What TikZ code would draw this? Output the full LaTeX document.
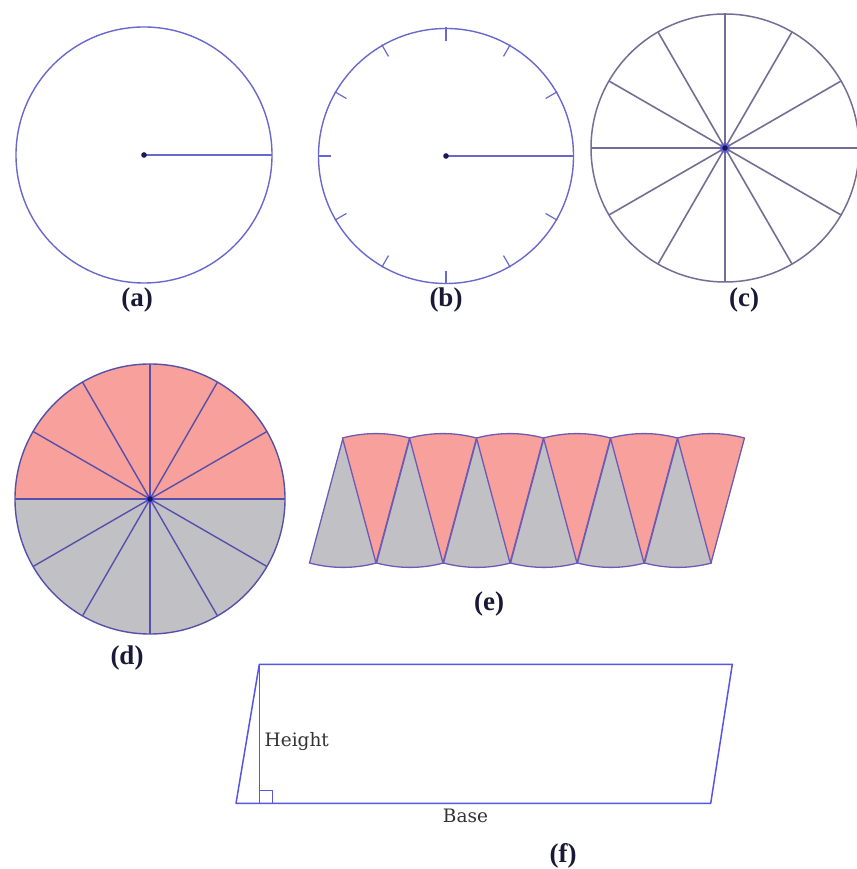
\documentclass[tikz,border=0pt]{standalone}
\usepackage{fontspec}
\setmainfont{Liberation Serif}
\newfontfamily\dejaserif{DejaVu Serif}
\definecolor{circblue}{RGB}{105,105,205}
\definecolor{gline}{RGB}{115,110,150}
\definecolor{dline}{RGB}{85,80,170}
\definecolor{eline}{RGB}{110,90,180}
\definecolor{pline}{RGB}{85,85,230}
\definecolor{dotnavy}{RGB}{25,25,90}
\definecolor{pinkc}{RGB}{248,160,156}
\definecolor{grayc}{RGB}{192,192,197}
\definecolor{labc}{RGB}{25,25,55}
\begin{document}
\begin{tikzpicture}[x=1pt,y=1pt,line join=round,
  lab/.style={font=\bfseries\fontsize{27}{30}\selectfont, text=labc, inner sep=0pt},
  geotext/.style={font=\dejaserif\fontsize{18.5}{22}\selectfont, text=black!80, inner sep=0pt}]
\useasboundingbox (0,0) rectangle (856,869);
\fill[white] (0,0) rectangle (856,869);

% (a)
\coordinate (ca) at (144,714);
\draw[circblue, line width=1.4] (ca) circle[radius=128];
\draw[circblue, line width=1.6] (ca) -- ++(128,0);
\fill[dotnavy] (ca) circle[radius=2.8];
\node[lab] (la) at (137,569) {(a)};

% (b)
\coordinate (cb) at (446,713);
\draw[circblue, line width=1.4] (cb) circle[radius=127.5];
\foreach \a in {30,60,...,330}
  \draw[circblue, line width=1.2] (cb) ++(\a:115) -- ++(\a:13.5);
\draw[circblue, line width=1.6] (cb) -- ++(127.5,0);
\fill[dotnavy] (cb) circle[radius=2.8];
\node[lab] (lb) at (446,569) {(b)};

% (c)
\coordinate (cc) at (725,721);
\draw[gline, line width=1.5] (cc) circle[radius=134];
\foreach \a in {0,30,...,150}
  \draw[gline, line width=1.6] (cc) ++(\a:134) -- ++(\a+180:268);
\fill[blue!70, opacity=0.5] (cc) circle[radius=5.5];
\fill[dotnavy] (cc) circle[radius=2.8];
\node[lab] (lc) at (744,569) {(c)};

% (d)
\coordinate (cd) at (150,370);
\fill[pinkc] (cd) ++(0:135) arc[start angle=0, end angle=180, radius=135] -- cycle;
\fill[grayc] (cd) ++(180:135) arc[start angle=180, end angle=360, radius=135] -- cycle;
\foreach \a in {0,30,...,150}
  \draw[dline, line width=1.4] (cd) ++(\a:135) -- ++(\a+180:270);
\draw[dline, line width=1.4] (cd) circle[radius=135];
\fill[blue!70, opacity=0.5] (cd) circle[radius=5];
\fill[dotnavy] (cd) circle[radius=2.8];
\node[lab] (ld) at (127,211) {(d)};

% (e)
\foreach \k [evaluate=\k as \gx using 343+67*\k,
             evaluate=\k as \px using 376+67*\k] in {0,...,5} {
  \filldraw[fill=grayc, draw=eline, line width=1.3]
    (\gx,431) -- ++(255:129.4) arc[start angle=255, end angle=285, radius=129.4] -- cycle;
  \filldraw[fill=pinkc, draw=eline, line width=1.3]
    (\px,306) -- ++(105:129.4) arc[start angle=105, end angle=75, radius=129.4] -- cycle;
}
\node[lab] (le) at (489,265) {(e)};

% (f)
\coordinate (fTL) at (259.3,204.7);
\coordinate (fTR) at (732.3,204.7);
\coordinate (fBR) at (710.7,65.7);
\coordinate (fBL) at (236,65.7);
\coordinate (fH) at (259.3,65.7);
\draw[pline, line width=1.5] (fTL) -- (fTR) -- (fBR) -- (fBL) -- cycle;
\draw[pline, line width=1.3] (fTL) -- (fH);
\draw[pline, line width=1.2] (fH) rectangle ++(13.5,12.5);
\node[geotext, anchor=west] (height) at (264.5,127) {Height};
\node[geotext] (base) at (465.5,53) {Base};
\node[lab] (lf) at (563,13) {(f)};
\end{tikzpicture}
\end{document}
